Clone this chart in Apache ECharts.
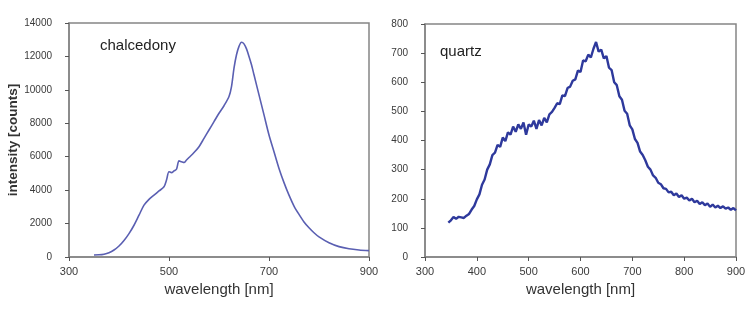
<!DOCTYPE html>
<html>
<head>
<meta charset="utf-8">
<script src="https://cdn.jsdelivr.net/npm/echarts@6/dist/echarts.min.js"></script>
<style>
html, body { margin: 0; padding: 0; background: #fff; }
#chart { width: 756px; height: 313px; }
</style>
</head>
<body>
<div id="chart"></div>
<script>
// chalcedony spectrum
const chalWave = [350, 360, 370, 380, 390, 400, 410, 420, 430, 440, 450, 460, 470, 480, 490, 495, 500, 505, 510, 515, 520, 525, 530, 535, 540, 550, 560, 570, 580, 590, 600, 610, 620, 625, 630, 635, 640, 645, 650, 655, 660, 665, 670, 680, 690, 700, 710, 720, 730, 740, 750, 760, 770, 780, 790, 800, 820, 840, 860, 880, 900];
const chalCounts = [120, 130, 170, 260, 420, 660, 990, 1400, 1900, 2500, 3100, 3450, 3700, 3950, 4200, 4600, 5100, 5050, 5150, 5250, 5750, 5700, 5650, 5800, 5950, 6250, 6600, 7100, 7600, 8100, 8600, 9050, 9600, 10200, 11300, 12100, 12600, 12850, 12750, 12450, 12000, 11500, 10900, 9700, 8500, 7300, 6300, 5300, 4450, 3700, 3050, 2550, 2100, 1750, 1450, 1200, 850, 620, 490, 420, 380];

// quartz spectrum (noisy)
const quartzWave = [345, 350, 355, 360, 365, 370, 375, 380, 385, 390, 395, 400, 405, 410, 415, 420, 425, 430, 435, 440, 445, 450, 455, 460, 465, 470, 475, 480, 485, 490, 495, 500, 505, 510, 515, 520, 525, 530, 535, 540, 545, 550, 555, 560, 565, 570, 575, 580, 585, 590, 595, 600, 605, 610, 615, 620, 625, 630, 635, 640, 645, 650, 655, 660, 665, 670, 675, 680, 685, 690, 695, 700, 705, 710, 715, 720, 725, 730, 735, 740, 745, 750, 755, 760, 765, 770, 775, 780, 785, 790, 795, 800, 805, 810, 815, 820, 825, 830, 835, 840, 845, 850, 855, 860, 865, 870, 875, 880, 885, 890, 895, 900];
const quartzCounts = [118, 126, 137, 131, 138, 136, 134, 142, 148, 163, 175, 198, 215, 248, 266, 300, 318, 350, 358, 385, 378, 410, 398, 428, 420, 448, 430, 455, 440, 462, 420, 455, 448, 468, 440, 470, 452, 478, 462, 490, 498, 512, 528, 525, 555, 552, 580, 585, 605, 610, 640, 635, 675, 672, 695, 685, 715, 738, 705, 712, 682, 690, 650, 642, 600, 590, 552, 540, 502, 492, 452, 438, 405, 392, 362, 350, 332, 310, 300, 280, 272, 255, 250, 236, 234, 222, 224, 212, 218, 206, 212, 200, 204, 194, 200, 188, 193, 182, 188, 178, 184, 172, 180, 170, 176, 168, 174, 166, 170, 162, 168, 160];

const chart = echarts.init(document.getElementById('chart'));

const axisGray = '#858585';
const labelColor = '#3a3a3a';
const font = 'Liberation Sans, Arial, sans-serif';

function xAxisOf(gridIndex, interval) {
    return {
        type: 'value',
        gridIndex: gridIndex,
        min: 300,
        max: 900,
        interval: interval,
        name: 'wavelength [nm]',
        nameLocation: 'middle',
        nameGap: 24,
        nameTextStyle: { color: '#333', fontSize: 15, fontFamily: font },
        axisLine: { show: true, lineStyle: { color: axisGray, width: 1.5 } },
        axisTick: { show: true, inside: false, length: 4, lineStyle: { color: '#555' } },
        axisLabel: { color: labelColor, fontSize: 11, fontFamily: font, margin: 9 },
        splitLine: { show: false }
    };
}

function yAxisOf(gridIndex, max, interval, name) {
    return {
        type: 'value',
        gridIndex: gridIndex,
        min: 0,
        max: max,
        interval: interval,
        name: name,
        nameLocation: 'middle',
        nameGap: 48,
        nameTextStyle: { color: '#333', fontSize: 13.5, fontWeight: 'bold', fontFamily: font },
        axisLine: { show: true, lineStyle: { color: axisGray, width: 1.5 } },
        axisTick: { show: true, inside: false, length: 4, lineStyle: { color: '#555' } },
        axisLabel: {
            color: labelColor, fontSize: 10, fontFamily: font, margin: 17,
            formatter: (v) => String(v)
        },
        splitLine: { show: false }
    };
}

const option = {
    animation: false,
    backgroundColor: '#fff',
    grid: [
        { left: 69, right: 387, top: 23, bottom: 56, show: true, borderColor: axisGray, borderWidth: 1.5 },
        { left: 425, right: 20, top: 24, bottom: 56, show: true, borderColor: axisGray, borderWidth: 1.5 }
    ],
    xAxis: [xAxisOf(0, 200), xAxisOf(1, 100)],
    yAxis: [yAxisOf(0, 14000, 2000, 'intensity [counts]'), yAxisOf(1, 800, 100, '')],
    graphic: [
        { type: 'text', left: 100, top: 38, style: { text: 'chalcedony', fontSize: 15, fontFamily: font, fill: '#222' } },
        { type: 'text', left: 440, top: 44, style: { text: 'quartz', fontSize: 15, fontFamily: font, fill: '#222' } }
    ],
    series: [
        {
            type: 'line',
            xAxisIndex: 0,
            yAxisIndex: 0,
            showSymbol: false,
            smooth: 0.3,
            lineStyle: { color: '#5a5fb2', width: 1.6 },
            data: chalWave.map((w, i) => [w, chalCounts[i]])
        },
        {
            type: 'line',
            xAxisIndex: 1,
            yAxisIndex: 1,
            showSymbol: false,
            lineStyle: { color: '#2e399c', width: 2.4 },
            data: quartzWave.map((w, i) => [w, quartzCounts[i]])
        }
    ]
};

chart.setOption(option);
</script>
</body>
</html>
